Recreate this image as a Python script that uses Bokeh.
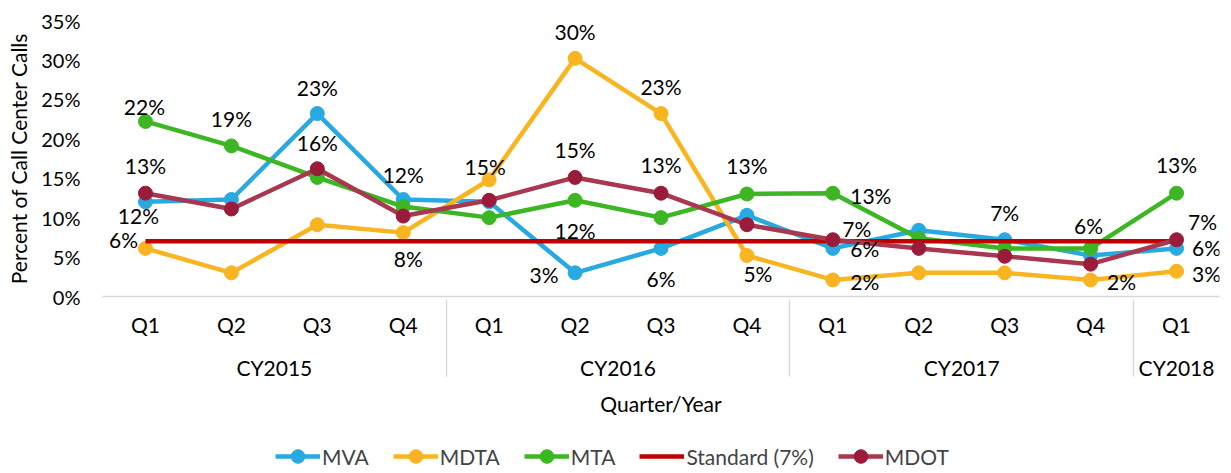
from bokeh.plotting import figure
from bokeh.layouts import column
from bokeh.models import (FactorRange, Range1d, FixedTicker, PrintfTickFormatter,
                          Legend, LegendItem, ColumnDataSource)
from bokeh.embed import file_html
from bokeh.resources import INLINE
from bokeh.core.properties import value

# ---------------- data ----------------
years = ["CY2015"] * 4 + ["CY2016"] * 4 + ["CY2017"] * 4 + ["CY2018"]
quarters = ["Q1", "Q2", "Q3", "Q4"] * 3 + ["Q1"]
mva = [12.0, 12.3, 23.2, 12.3, 12.0, 3.0, 6.1, 10.3, 6.1, 8.4, 7.2, 5.2, 6.1]
mdta = [6.1, 3.0, 9.1, 8.1, 14.8, 30.2, 23.2, 5.2, 2.1, 3.0, 3.0, 2.1, 3.2]
mta = [22.2, 19.1, 15.1, 11.4, 10.0, 12.2, 10.0, 13.0, 13.1, 7.4, 6.1, 6.1, 13.1]
standard = [7] * 13
mdot = [13.1, 11.1, 16.2, 10.2, 12.2, 15.1, 13.1, 9.1, 7.2, 6.1, 5.1, 4.1, 7.2]
y_ticks = [0, 5, 10, 15, 20, 25, 30, 35]

# which points carry a data label, and where (pixel offsets from the point)
label_spots = {
    "MVA": [(0, -7, 14), (2, 0, -26), (3, 0, -25), (5, -31, 2), (6, 0, 30),
            (8, 32, 0), (10, 0, -27), (12, 30, -1)],
    "MDTA": [(0, -22, -9), (3, 5, 26), (4, -4, -13), (5, 0, -27), (6, 0, -27),
             (7, 11, 18), (8, 32, 2), (11, 31, 2), (12, 30, 2)],
    "MTA": [(0, -1, -15), (1, 0, -27), (5, 0, 30), (7, 0, -28), (8, 38, 2),
            (11, -2, -23), (12, 0, -29)],
    "MDOT": [(0, 0, -28), (2, 0, -26), (5, 0, -28), (6, 0, -29), (8, 24, -11),
             (12, 26, -18)],
}

FONT = "Lato"
FS = "21px"

factors = list(zip(years, quarters))

p = figure(width=1231, height=436,
           x_range=FactorRange(factors=factors, factor_padding=0, group_padding=0,
                               range_padding=0),
           y_range=Range1d(0, 35),
           output_backend="svg", toolbar_location=None,
           min_border_left=102, min_border_right=12, min_border_top=20,
           min_border_bottom=140)
p.outline_line_color = None
p.xgrid.grid_line_color = None
p.ygrid.grid_line_color = None
p.background_fill_color = "white"

series = [
    ("MVA", mva, "#29A9E1", "#29A9E1"),
    ("MDTA", mdta, "#F9B521", "#F9B521"),
    ("MTA", mta, "#3DB623", "#3DB623"),
    ("Standard (7%)", standard, "#C00000", None),
    ("MDOT", mdot, "#A8374F", "#9B1B3A"),
]
for name, vals, lc, mc in series:
    src = ColumnDataSource(dict(x=factors, y=vals))
    p.line("x", "y", source=src, line_color=lc, line_width=4.5)
    if mc:
        p.scatter("x", "y", source=src, size=14, marker="circle",
                  fill_color=mc, line_color=mc)

vals_by_name = {"MVA": mva, "MDTA": mdta, "MTA": mta, "MDOT": mdot}
lx, ly, lt, ldx, ldy = [], [], [], [], []
for name, spots in label_spots.items():
    for i, dx, dy in spots:
        lx.append(factors[i])
        ly.append(vals_by_name[name][i])
        lt.append(f"{vals_by_name[name][i]:.0f}%")
        ldx.append(dx)
        ldy.append(dy)
lsrc = ColumnDataSource(dict(x=lx, y=ly, text=lt, dx=ldx, dy=ldy))
p.text("x", "y", text="text", source=lsrc, x_offset="dx", y_offset="dy",
       text_align="center", text_baseline="middle",
       text_font=value(FONT), text_font_size=FS, text_color="#000000")

# y axis
p.yaxis.ticker = FixedTicker(ticks=y_ticks)
p.yaxis.formatter = PrintfTickFormatter(format="%d%%")
p.yaxis.axis_line_color = None
p.yaxis.major_tick_line_color = None
p.yaxis.minor_tick_line_color = None
p.yaxis.major_tick_out = 0
p.yaxis.major_tick_in = 0
p.yaxis.major_label_standoff = 22
p.yaxis.major_label_text_font = FONT
p.yaxis.major_label_text_font_size = "20px"
p.yaxis.major_label_text_color = "#000000"
p.yaxis.axis_label = "Percent of Call Center Calls"
p.yaxis.axis_label_text_font = FONT
p.yaxis.axis_label_text_font_size = FS
p.yaxis.axis_label_text_font_style = "normal"
p.yaxis.axis_label_text_color = "#000000"
p.yaxis.axis_label_standoff = 7

# x axis
p.xaxis.axis_line_color = "#D9D9D9"
p.xaxis.axis_line_width = 1.5
p.xaxis.major_tick_line_color = None
p.xaxis.minor_tick_line_color = None
p.xaxis.major_tick_out = 0
p.xaxis.major_tick_in = 0
p.xaxis.major_label_standoff = 15
p.xaxis.major_label_text_font = FONT
p.xaxis.major_label_text_font_size = FS
p.xaxis.major_label_text_color = "#000000"
p.xaxis.group_text_font = FONT
p.xaxis.group_text_font_size = FS
p.xaxis.group_text_font_style = "normal"
p.xaxis.group_text_color = "#000000"
p.xaxis.separator_line_color = "#D9D9D9"
p.xaxis.separator_line_width = 1.5
p.xaxis.axis_label = "Quarter/Year"
p.xaxis.axis_label_text_font = FONT
p.xaxis.axis_label_text_font_size = FS
p.xaxis.axis_label_text_font_style = "normal"
p.xaxis.axis_label_text_color = "#000000"
p.xaxis.axis_label_standoff = 8

# ---------------- legend strip ----------------
lf = figure(width=1231, height=37, x_range=Range1d(0, 1), y_range=Range1d(0, 1),
            x_axis_type=None, y_axis_type=None,
            output_backend="svg", toolbar_location=None, min_border=0)
lf.outline_line_color = None
lf.xgrid.grid_line_color = None
lf.ygrid.grid_line_color = None
items = []
for name, vals, lc, mc in series:
    rs = [lf.line([-5, -4], [-5, -4], line_color=lc, line_width=4.5)]
    if mc:
        rs.append(lf.scatter([-5], [-5], size=14, marker="circle",
                             fill_color=mc, line_color=mc))
    items.append(LegendItem(label=name, renderers=rs))
legend = Legend(items=items, orientation="horizontal", location=(173, 0),
                label_text_font=FONT, label_text_font_size=FS,
                glyph_width=45, glyph_height=34, spacing=24, label_standoff=2,
                border_line_color=None, background_fill_alpha=0,
                margin=0, padding=0)
lf.add_layout(legend)

layout = column(p, lf, spacing=0)
open("out.html", "w").write(file_html(layout, INLINE))
